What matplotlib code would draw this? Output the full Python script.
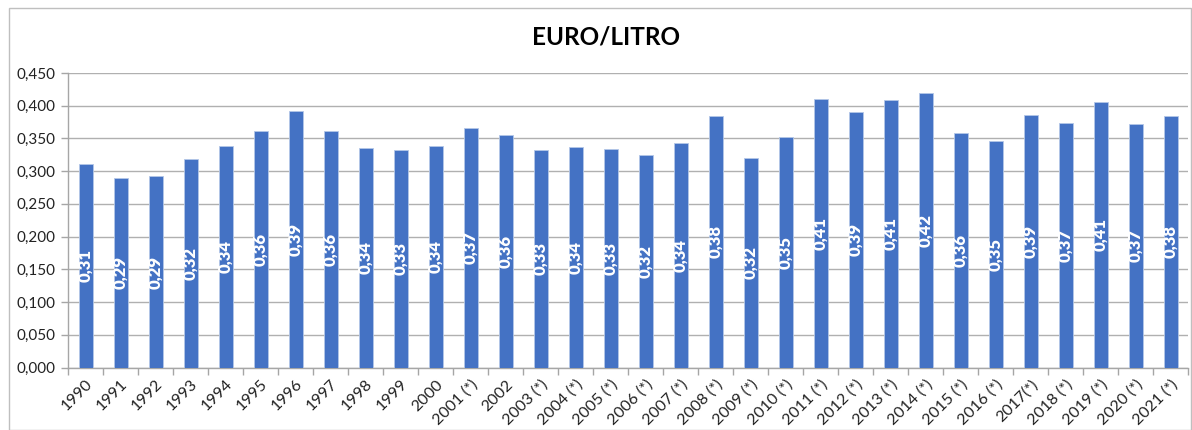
import numpy as np
import matplotlib.pyplot as plt
from matplotlib.patches import Rectangle

plt.rcParams['font.family'] = ['Lato', 'DejaVu Sans']

anni = ['1990', '1991', '1992', '1993', '1994', '1995', '1996', '1997', '1998', '1999',
        '2000', '2001 (*)', '2002', '2003 (*)', '2004 (*)', '2005 (*)', '2006 (*)',
        '2007 (*)', '2008 (*)', '2009 (*)', '2010 (*)', '2011 (*)', '2012 (*)',
        '2013 (*)', '2014 (*)', '2015 (*)', '2016 (*)', '2017(*)', '2018 (*)',
        '2019 (*)', '2020 (*)', '2021 (*)']
euro_litro = [0.311, 0.290, 0.292, 0.318, 0.339, 0.361, 0.392, 0.362, 0.336, 0.332,
              0.339, 0.366, 0.356, 0.333, 0.337, 0.334, 0.324, 0.343, 0.384, 0.320,
              0.352, 0.411, 0.391, 0.409, 0.419, 0.358, 0.346, 0.386, 0.374, 0.406,
              0.372, 0.384]
y_ticks = [0.0, 0.05, 0.1, 0.15, 0.2, 0.25, 0.3, 0.35, 0.4, 0.45]

W, H = 1192, 430
fig = plt.figure(figsize=(W / 100, H / 100), dpi=100)
# area del grafico in pixel: x 68..1188, y 73..367
ax = fig.add_axes([68 / W, 1 - 367.5 / H, 1120 / W, 294.5 / H])

x = np.arange(len(anni))
ax.bar(x, euro_litro, width=0.4, color='#4472c4', edgecolor='#b4c7e7', linewidth=0.6, zorder=3)

for xi, v in zip(x, euro_litro):
    ax.text(xi, v / 2, f'{v:.2f}'.replace('.', ','), rotation=90, ha='center', va='center',
            color='white', fontsize=12, fontweight='heavy', zorder=4)

ax.set_xlim(-0.5, len(anni) - 0.5)
ax.set_ylim(0, 0.45)
ax.set_yticks(y_ticks)
ax.set_yticklabels([f'{t:.3f}'.replace('.', ',') for t in y_ticks], fontsize=11, color='#222222')
ax.yaxis.grid(True, color='#b0b0b0', linewidth=1, zorder=0)

ax.set_xticks(x)
ax.set_xticklabels(anni, rotation=45, ha='right', rotation_mode='anchor', fontsize=11.5, color='#222222')
ax.tick_params(axis='x', length=0, pad=7)
ax.set_xticks(np.arange(len(anni) + 1) - 0.5, minor=True)
ax.tick_params(axis='x', which='minor', length=5, color='#a6a6a6', width=1)
ax.tick_params(axis='y', length=5, color='#a6a6a6', width=1, pad=4)

for s in ['top', 'right']:
    ax.spines[s].set_visible(False)
for s in ['left', 'bottom']:
    ax.spines[s].set_color('#a6a6a6')
    ax.spines[s].set_linewidth(1)

fig.text(606 / W, 1 - 37 / H, 'EURO/LITRO', ha='center', va='center', fontsize=17.5, fontweight='bold', color='black')

# bordo del grafico
fig.patches.append(Rectangle((9 / W, 0), 1 - 9 / W - 1 / W, 1 - 8 / H, transform=fig.transFigure,
                             fill=False, edgecolor='#bfbfbf', linewidth=1))

fig.savefig('out.png', dpi=100)
